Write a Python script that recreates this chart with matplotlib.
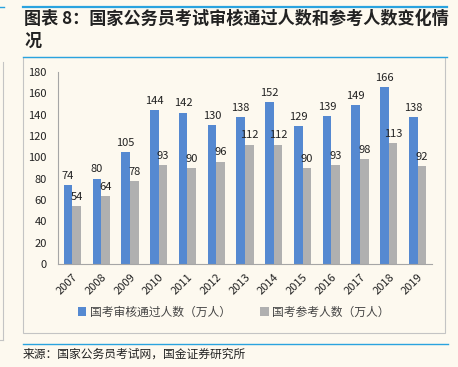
import matplotlib.pyplot as plt
import numpy as np
from matplotlib.patches import Rectangle
from matplotlib.lines import Line2D

years = ['2007', '2008', '2009', '2010', '2011', '2012', '2013',
         '2014', '2015', '2016', '2017', '2018', '2019']
passed = [74, 80, 105, 144, 142, 130, 138, 152, 129, 139, 149, 166, 138]
attended = [54, 64, 78, 93, 90, 96, 112, 112, 90, 93, 98, 113, 92]

plt.rcParams['font.family'] = ['Noto Sans CJK SC', 'DejaVu Sans']
bg = '#fdf9ef'
blue = '#5589d1'
gray = '#b0b0b0'
line_blue = '#2aa3df'

W, H = 458, 367
fig = plt.figure(figsize=(W / 100, H / 100), dpi=100, facecolor=bg)

def fx(px):
    return px / W

def fy(py):
    return 1 - py / H

# decorative lines / frame
fig.add_artist(Line2D([fx(23), fx(447)], [fy(7), fy(7)], color=line_blue, lw=1.6))
fig.add_artist(Line2D([fx(0), fx(4)], [fy(7), fy(7)], color=line_blue, lw=1.0))
fig.add_artist(Rectangle((fx(23), fy(333)), fx(445) - fx(23), fy(57) - fy(333),
                         fill=False, edgecolor='#c4c4c4', lw=0.8))
fig.add_artist(Line2D([fx(23), fx(447)], [fy(57), fy(57)], color=line_blue, lw=1.0))
fig.add_artist(Line2D([fx(23), fx(448)], [fy(344), fy(344)], color=line_blue, lw=1.0))
fig.add_artist(Line2D([fx(3), fx(3)], [fy(62), fy(340)], color='#c4c4c4', lw=0.8))
fig.add_artist(Line2D([fx(0), fx(3)], [fy(340), fy(340)], color='#c4c4c4', lw=0.8))

fig.text(fx(24), fy(19), '图表 8：国家公务员考试审核通过人数和参考人数变化情',
         fontsize=12.3, fontweight='bold', va='center', ha='left', color='#222222')
fig.text(fx(24), fy(41), '况', fontsize=12.3, fontweight='bold',
         va='center', ha='left', color='#222222')
fig.text(fx(23), fy(354), '来源：国家公务员考试网，国金证券研究所',
         fontsize=8.5, va='center', ha='left', color='#222222')

ax = fig.add_axes([fx(58), fy(264), fx(432) - fx(58), fy(72) - fy(264)])
ax.set_facecolor(bg)

x = np.arange(len(years))
width = 0.3
r1 = ax.bar(x - width / 2, passed, width, color=blue, label='国考审核通过人数（万人）')
r2 = ax.bar(x + width / 2, attended, width, color=gray, label='国考参考人数（万人）')
ax.bar_label(r1, padding=3, fontsize=8, color='#222222')
ax.bar_label(r2, padding=3, fontsize=8, color='#222222')

ax.set_xlim(-0.5, len(years) - 0.5)
ax.set_ylim(0, 180)
ax.set_yticks(range(0, 181, 20))
ax.set_xticks(x)
ax.set_xticklabels(years, rotation=45, ha='right', rotation_mode='anchor')
ax.tick_params(axis='both', length=0, labelsize=8, colors='#222222')
ax.tick_params(axis='y', pad=8)
ax.tick_params(axis='x', pad=6)
for s in ['top', 'right']:
    ax.spines[s].set_visible(False)
for s in ['left', 'bottom']:
    ax.spines[s].set_color('#a6a6a6')
    ax.spines[s].set_linewidth(0.8)

ax.legend(loc='center', bbox_to_anchor=(0.47, (fy(312) - fy(264)) / (fy(72) - fy(264))),
          ncol=2, frameon=False, fontsize=8.5, handlelength=0.7, handleheight=0.7,
          handletextpad=0.3, columnspacing=2.5, labelcolor='#444444')

fig.savefig('out.png', dpi=100, facecolor=bg)
